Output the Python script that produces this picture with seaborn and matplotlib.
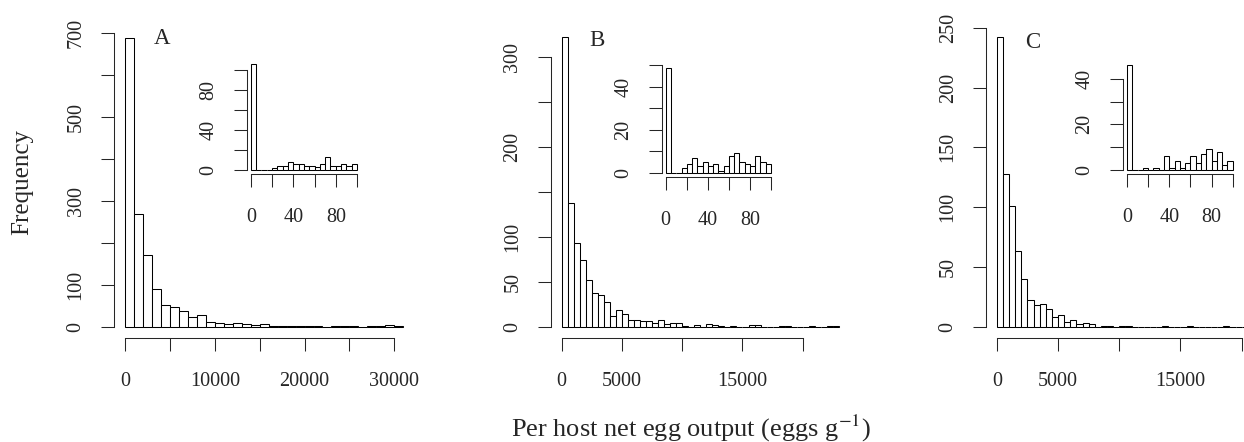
import numpy as np
import pandas as pd
import matplotlib
matplotlib.use("Agg")
import matplotlib.pyplot as plt
import seaborn as sns

# bin counts
# main histograms (A: bins of 1000, B and C: bins of 500)
counts_a = [690, 270, 170, 91, 53, 47, 37, 24, 27, 12, 8, 6, 10, 6, 3, 6,
            2, 1, 1, 2, 1, 1, 0, 1, 1, 1, 0, 1, 1, 3, 1]
counts_b = [322, 138, 93, 74, 52, 37, 35, 28, 12, 19, 14, 8, 7, 6, 6, 4,
            7, 3, 4, 4, 1, 0, 2, 0, 3, 2, 1, 0, 1, 0, 0, 2, 2, 0, 0, 0,
            1, 1, 0, 0, 0, 1, 0, 0, 1, 1]
counts_c = [242, 128, 101, 63, 40, 22, 18, 19, 15, 8, 10, 4, 6, 2, 3, 2,
            0, 1, 1, 0, 1, 1, 0, 0, 0, 0, 0, 1, 0, 0, 0, 1, 0, 0, 0, 0,
            0, 1, 0, 0, 0, 0, 0, 0]
binw_main = [1000, 500, 500]

# insets: 0-100 in bins of 5
inset_a = [106, 0, 0, 0, 2, 4, 4, 8, 6, 6, 4, 4, 3, 6, 13, 4, 4, 6, 4, 6]
inset_b = [49, 0, 0, 2, 4, 7, 3, 5, 3, 4, 1, 3, 8, 9, 5, 4, 3, 8, 5, 4]
inset_c = [46, 0, 0, 1, 0, 1, 0, 6, 1, 4, 1, 3, 6, 3, 7, 9, 4, 8, 2, 4]

panel_letters = ["A", "B", "C"]
main_xticks = [np.arange(0, 30001, 5000), np.arange(0, 20001, 5000), np.arange(0, 20001, 5000)]
main_xlabels = [["0", "", "10000", "", "20000", "", "30000"],
                ["0", "5000", "", "15000", ""],
                ["0", "5000", "", "15000", ""]]
main_yticks = [np.arange(0, 701, 100), np.arange(0, 301, 50), np.arange(0, 251, 50)]
main_ylabels = [["0", "100", "", "300", "", "500", "", "700"],
                ["0", "50", "100", "", "200", "", "300"],
                ["0", "50", "100", "150", "200", "250"]]
inset_xticks = np.arange(0, 101, 20)
inset_xlabels = ["0", "", "40", "", "80", ""]
inset_yticks = [np.arange(0, 101, 20), np.arange(0, 51, 10), np.arange(0, 41, 10)]
inset_ylabels = [["0", "", "40", "", "80", ""],
                 ["0", "", "20", "", "40", ""],
                 ["0", "", "20", "", "40"]]

sns.set_style("ticks")
plt.rcParams["font.family"] = ["Liberation Serif", "DejaVu Serif"]
plt.rcParams["mathtext.fontset"] = "stix"

W, H = 1244, 442
fig = plt.figure(figsize=(W / 100, H / 100), dpi=100)

def px_axes(left, top, right, bottom):
    return fig.add_axes([left / W, 1 - bottom / H, (right - left) / W, (bottom - top) / H])

TICK_FS = 14.5
LW = 0.75

def r_hist(ax, counts, width, xticks, xlabels, yticks, ylabels):
    counts = np.asarray(counts, dtype=float)
    nb = len(counts)
    top = nb * width
    df = pd.DataFrame({"x": np.arange(nb) * width + width / 2, "n": counts})
    sns.histplot(data=df, x="x", weights="n", binwidth=width, binrange=(0, top),
                 ax=ax, color="white", edgecolor="black", linewidth=LW, alpha=1)
    # R style 4% padding of the data range
    ax.set_xlim(-0.04 * top, top * 1.04)
    ax.set_ylim(-0.04 * counts.max(), counts.max() * 1.04)
    ax.set_xlabel("")
    ax.set_ylabel("")
    ax.set_xticks(xticks)
    ax.set_xticklabels(xlabels)
    ax.set_yticks(yticks)
    ax.set_yticklabels(ylabels)
    for s in ["top", "right"]:
        ax.spines[s].set_visible(False)
    ax.spines["left"].set_bounds(yticks[0], yticks[-1])
    ax.spines["bottom"].set_bounds(xticks[0], xticks[-1])
    for s in ["left", "bottom"]:
        ax.spines[s].set_linewidth(LW)
    ax.tick_params(length=9.4, width=LW, labelsize=TICK_FS, direction="out")
    ax.tick_params(axis="x", pad=15)
    ax.tick_params(axis="y", pad=11)
    for lbl in ax.get_yticklabels():
        lbl.set_rotation(90)
        lbl.set_va("center")
    ax.patch.set_alpha(0)

main_boxes = [(113.9, 26.0, 414.4, 338.3),
              (550.6, 25.6, 850.0, 338.3),
              (986.0, 25.7, 1277.0, 338.3)]
inset_boxes = [(246.5, 59.8, 361.3, 174.0),
               (661.5, 63.3, 775.2, 176.9),
               (1122.8, 60.8, 1237.0, 174.2)]
letter_pos = [(162, 38), (597, 40), (1033, 42)]
mains = [counts_a, counts_b, counts_c]
insets = [inset_a, inset_b, inset_c]

for i in range(3):
    ax = px_axes(*main_boxes[i])
    r_hist(ax, mains[i], binw_main[i], main_xticks[i], main_xlabels[i],
           main_yticks[i], main_ylabels[i])
    axi = px_axes(*inset_boxes[i])
    r_hist(axi, insets[i], 5, inset_xticks, inset_xlabels,
           inset_yticks[i], inset_ylabels[i])
    lx, ly = letter_pos[i]
    fig.text(lx / W, 1 - ly / H, panel_letters[i], fontsize=16.5,
             ha="center", va="center")

fig.text(22 / W, 1 - 182 / H, "Frequency", rotation=90, fontsize=18,
         ha="center", va="center")
fig.text(691 / W, 1 - 437 / H, "Per host net egg output (eggs g$^{-1}$)",
         fontsize=19, ha="center", va="baseline")

fig.savefig("out.png", dpi=100)
